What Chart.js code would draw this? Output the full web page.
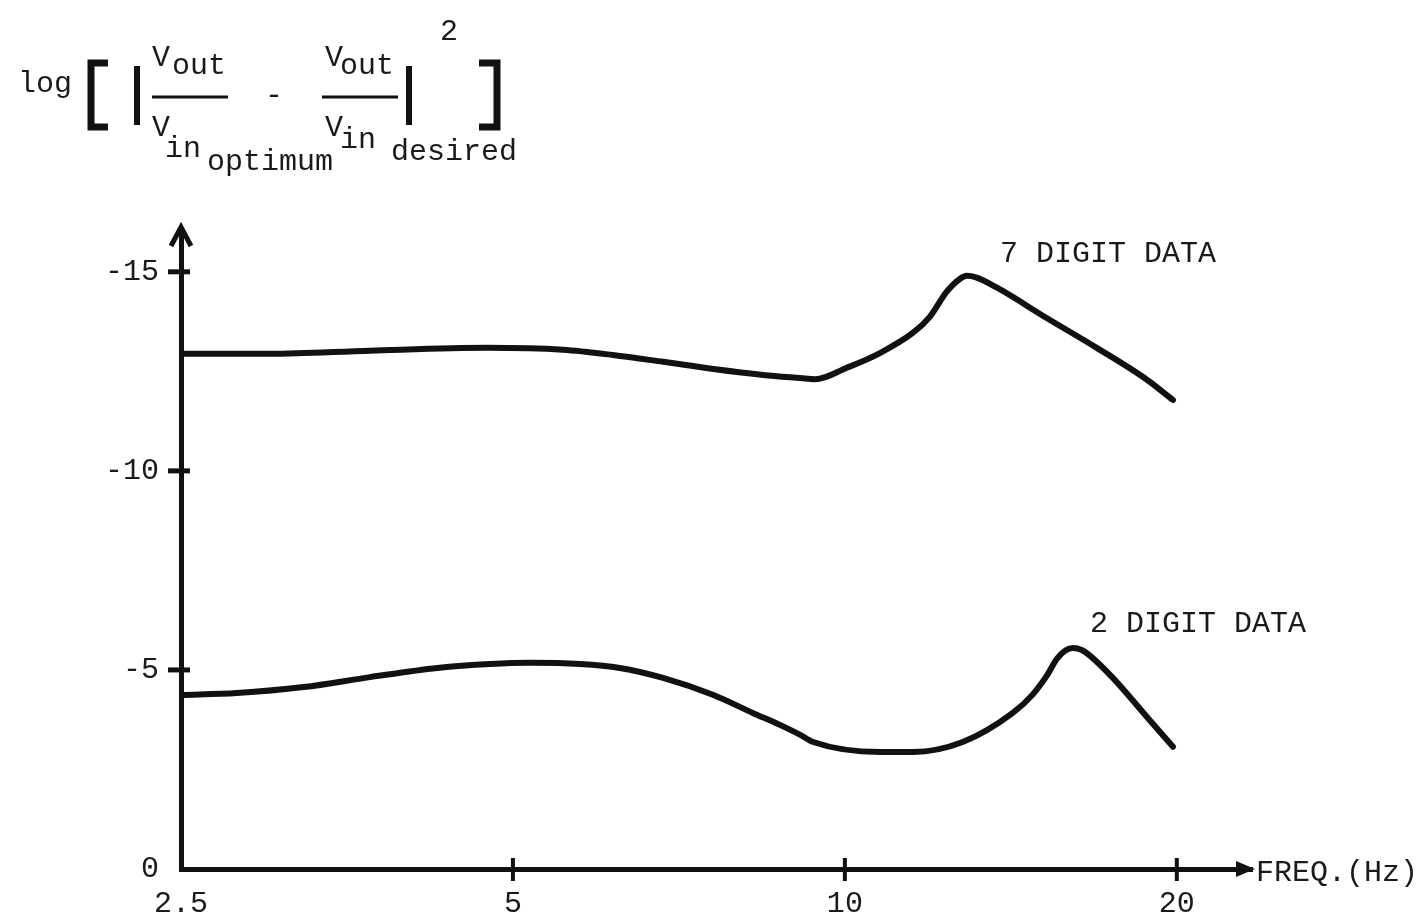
<!DOCTYPE html>
<html><head><meta charset="utf-8">
<script src="https://cdn.jsdelivr.net/npm/chart.js@4.4.1/dist/chart.umd.min.js"></script>
<style>html,body{margin:0;padding:0;background:#fff}canvas{display:block}</style>
</head><body>
<canvas id="c" width="1426" height="922"></canvas>
<script>
// ---- data ----
const freqTicks = [2.5, 5, 10, 20];
const freqTickLabels = ['2.5', '5', '10', '20'];
const levelTicks = [0, -5, -10, -15];
const levelTickLabels = ['0', '-5', '-10', '-15'];

const freq7 = [2.5, 3.01, 3.71, 4.74, 5.55, 6.16, 6.84, 7.60, 8.43, 9.11, 9.40, 10.04, 10.76, 11.53, 11.94, 12.37, 12.71, 12.9, 13.15, 13.74, 15.24, 16.92, 18.79, 19.84];
const level7 = [-12.94, -12.94, -13.02, -13.09, -13.04, -12.91, -12.74, -12.56, -12.41, -12.33, -12.30, -12.59, -12.96, -13.47, -13.87, -14.50, -14.82, -14.90, -14.86, -14.6, -13.84, -13.09, -12.29, -11.78];

const freq2 = [2.5, 2.81, 3.23, 3.71, 4.27, 4.77, 5.18, 5.75, 6.25, 6.84, 7.60, 8.25, 8.73, 9.11, 9.36, 10.76, 11.53, 12.79, 14.2, 14.8, 15.24, 15.57, 15.85, 16.10, 16.4, 16.68, 17.50, 18.79, 19.84];
const level2 = [-4.37, -4.42, -4.57, -4.82, -5.05, -5.15, -5.18, -5.15, -5.05, -4.80, -4.37, -3.92, -3.62, -3.37, -3.19, -2.94, -2.94, -3.19, -3.92, -4.38, -4.85, -5.28, -5.49, -5.55, -5.50, -5.36, -4.80, -3.82, -3.07];

const seriesNames = ['7 DIGIT DATA', '2 DIGIT DATA'];
const xAxisTitle = 'FREQ.(Hz)';

const INK = '#111';
const FONT = '"Liberation Mono", "Courier New", monospace';

const annot = {
  id: 'annot',
  afterDraw(chart) {
    const ctx = chart.ctx;
    const xs = chart.scales.x, ys = chart.scales.y;
    const area = chart.chartArea;
    ctx.save();
    ctx.strokeStyle = INK; ctx.fillStyle = INK;
    ctx.lineCap = 'butt';
    // tick marks crossing the axes
    ctx.lineWidth = 5;
    levelTicks.forEach(v => {
      if (v === 0) return;
      const py = ys.getPixelForValue(v);
      ctx.beginPath(); ctx.moveTo(area.left - 13, py); ctx.lineTo(area.left + 9, py); ctx.stroke();
    });
    ctx.lineWidth = 4;
    freqTicks.forEach(v => {
      if (v === freqTicks[0]) return;
      const px = xs.getPixelForValue(v);
      ctx.beginPath(); ctx.moveTo(px, area.bottom - 11); ctx.lineTo(px, area.bottom + 12); ctx.stroke();
    });
    // arrow heads
    ctx.lineWidth = 5; ctx.lineJoin = 'miter';
    ctx.beginPath();
    ctx.moveTo(area.left - 10, area.top + 14);
    ctx.lineTo(area.left, area.top - 5);
    ctx.lineTo(area.left + 10, area.top + 14);
    ctx.stroke();
    ctx.beginPath();
    ctx.moveTo(area.right - 16, area.bottom - 8);
    ctx.lineTo(area.right + 3, area.bottom);
    ctx.lineTo(area.right - 16, area.bottom + 8);
    ctx.closePath(); ctx.fill();

    // labels
    ctx.font = '30px ' + FONT;
    ctx.fillStyle = '#1a1a1a';
    ctx.textBaseline = 'middle'; ctx.textAlign = 'left';
    ctx.fillText(seriesNames[0], 1000, 254);
    ctx.fillText(seriesNames[1], 1090, 624);
    ctx.fillText(xAxisTitle, 1256, 873);

    // formula (y-axis title)
    ctx.textBaseline = 'alphabetic';
    ctx.fillText('log', 18, 92);
    ctx.fillText('V', 152, 66);
    ctx.fillText('out', 172, 74);
    ctx.fillText('V', 152, 136);
    ctx.fillText('in', 165, 157);
    ctx.fillText('optimum', 207, 170);
    ctx.fillText('-', 265, 104);
    ctx.fillText('V', 325, 66);
    ctx.fillText('out', 340, 74);
    ctx.fillText('V', 325, 136);
    ctx.fillText('in', 340, 148);
    ctx.fillText('desired', 391, 160);
    ctx.fillText('2', 440, 40);
    ctx.strokeStyle = INK;
    ctx.lineWidth = 3;
    ctx.beginPath(); ctx.moveTo(152, 97); ctx.lineTo(228, 97); ctx.stroke();
    ctx.beginPath(); ctx.moveTo(322, 97); ctx.lineTo(398, 97); ctx.stroke();
    ctx.lineWidth = 6;
    ctx.beginPath(); ctx.moveTo(137, 66); ctx.lineTo(137, 125); ctx.stroke();
    ctx.beginPath(); ctx.moveTo(409, 66); ctx.lineTo(409, 125); ctx.stroke();
    ctx.lineWidth = 7;
    ctx.beginPath(); ctx.moveTo(108, 63); ctx.lineTo(91, 63); ctx.lineTo(91, 127); ctx.lineTo(108, 127); ctx.stroke();
    ctx.beginPath(); ctx.moveTo(479, 63); ctx.lineTo(497, 63); ctx.lineTo(497, 127); ctx.lineTo(479, 127); ctx.stroke();
    ctx.restore();
  }
};

const tickFont = { family: FONT, size: 30 };

new Chart(document.getElementById('c'), {
  type: 'line',
  data: {
    datasets: [
      { label: seriesNames[0], data: freq7.map((f, i) => ({ x: f, y: level7[i] })) },
      { label: seriesNames[1], data: freq2.map((f, i) => ({ x: f, y: level2[i] })) }
    ]
  },
  options: {
    responsive: false,
    animation: false,
    events: [],
    elements: {
      line: { borderColor: INK, borderWidth: 6, cubicInterpolationMode: 'monotone', borderCapStyle: 'round', borderJoinStyle: 'round', fill: false },
      point: { radius: 0 }
    },
    layout: { padding: { left: 81, right: 174, top: 232, bottom: 0 } },
    plugins: { legend: { display: false }, tooltip: { enabled: false } },
    scales: {
      x: {
        type: 'logarithmic', min: 2.5, max: 23.4,
        afterBuildTicks: s => { s.ticks = freqTicks.map(v => ({ value: v })); },
        afterFit: s => { s.height = 53; },
        ticks: {
          autoSkip: false, maxRotation: 0, padding: 17, color: '#1a1a1a', font: tickFont,
          callback: v => { const i = freqTicks.indexOf(v); return i >= 0 ? freqTickLabels[i] : ''; }
        },
        grid: { display: false, drawTicks: false },
        border: { display: true, color: INK, width: 5 }
      },
      y: {
        type: 'linear', reverse: true, min: -16, max: 0,
        afterBuildTicks: s => { s.ticks = levelTicks.map(v => ({ value: v })); },
        afterFit: s => { s.width = 100; },
        ticks: {
          padding: 22, color: '#1a1a1a', font: tickFont,
          callback: v => { const i = levelTicks.indexOf(v); return i >= 0 ? levelTickLabels[i] : ''; }
        },
        grid: { display: false, drawTicks: false },
        border: { display: true, color: INK, width: 5 }
      }
    }
  },
  plugins: [annot]
});
</script>
</body></html>
